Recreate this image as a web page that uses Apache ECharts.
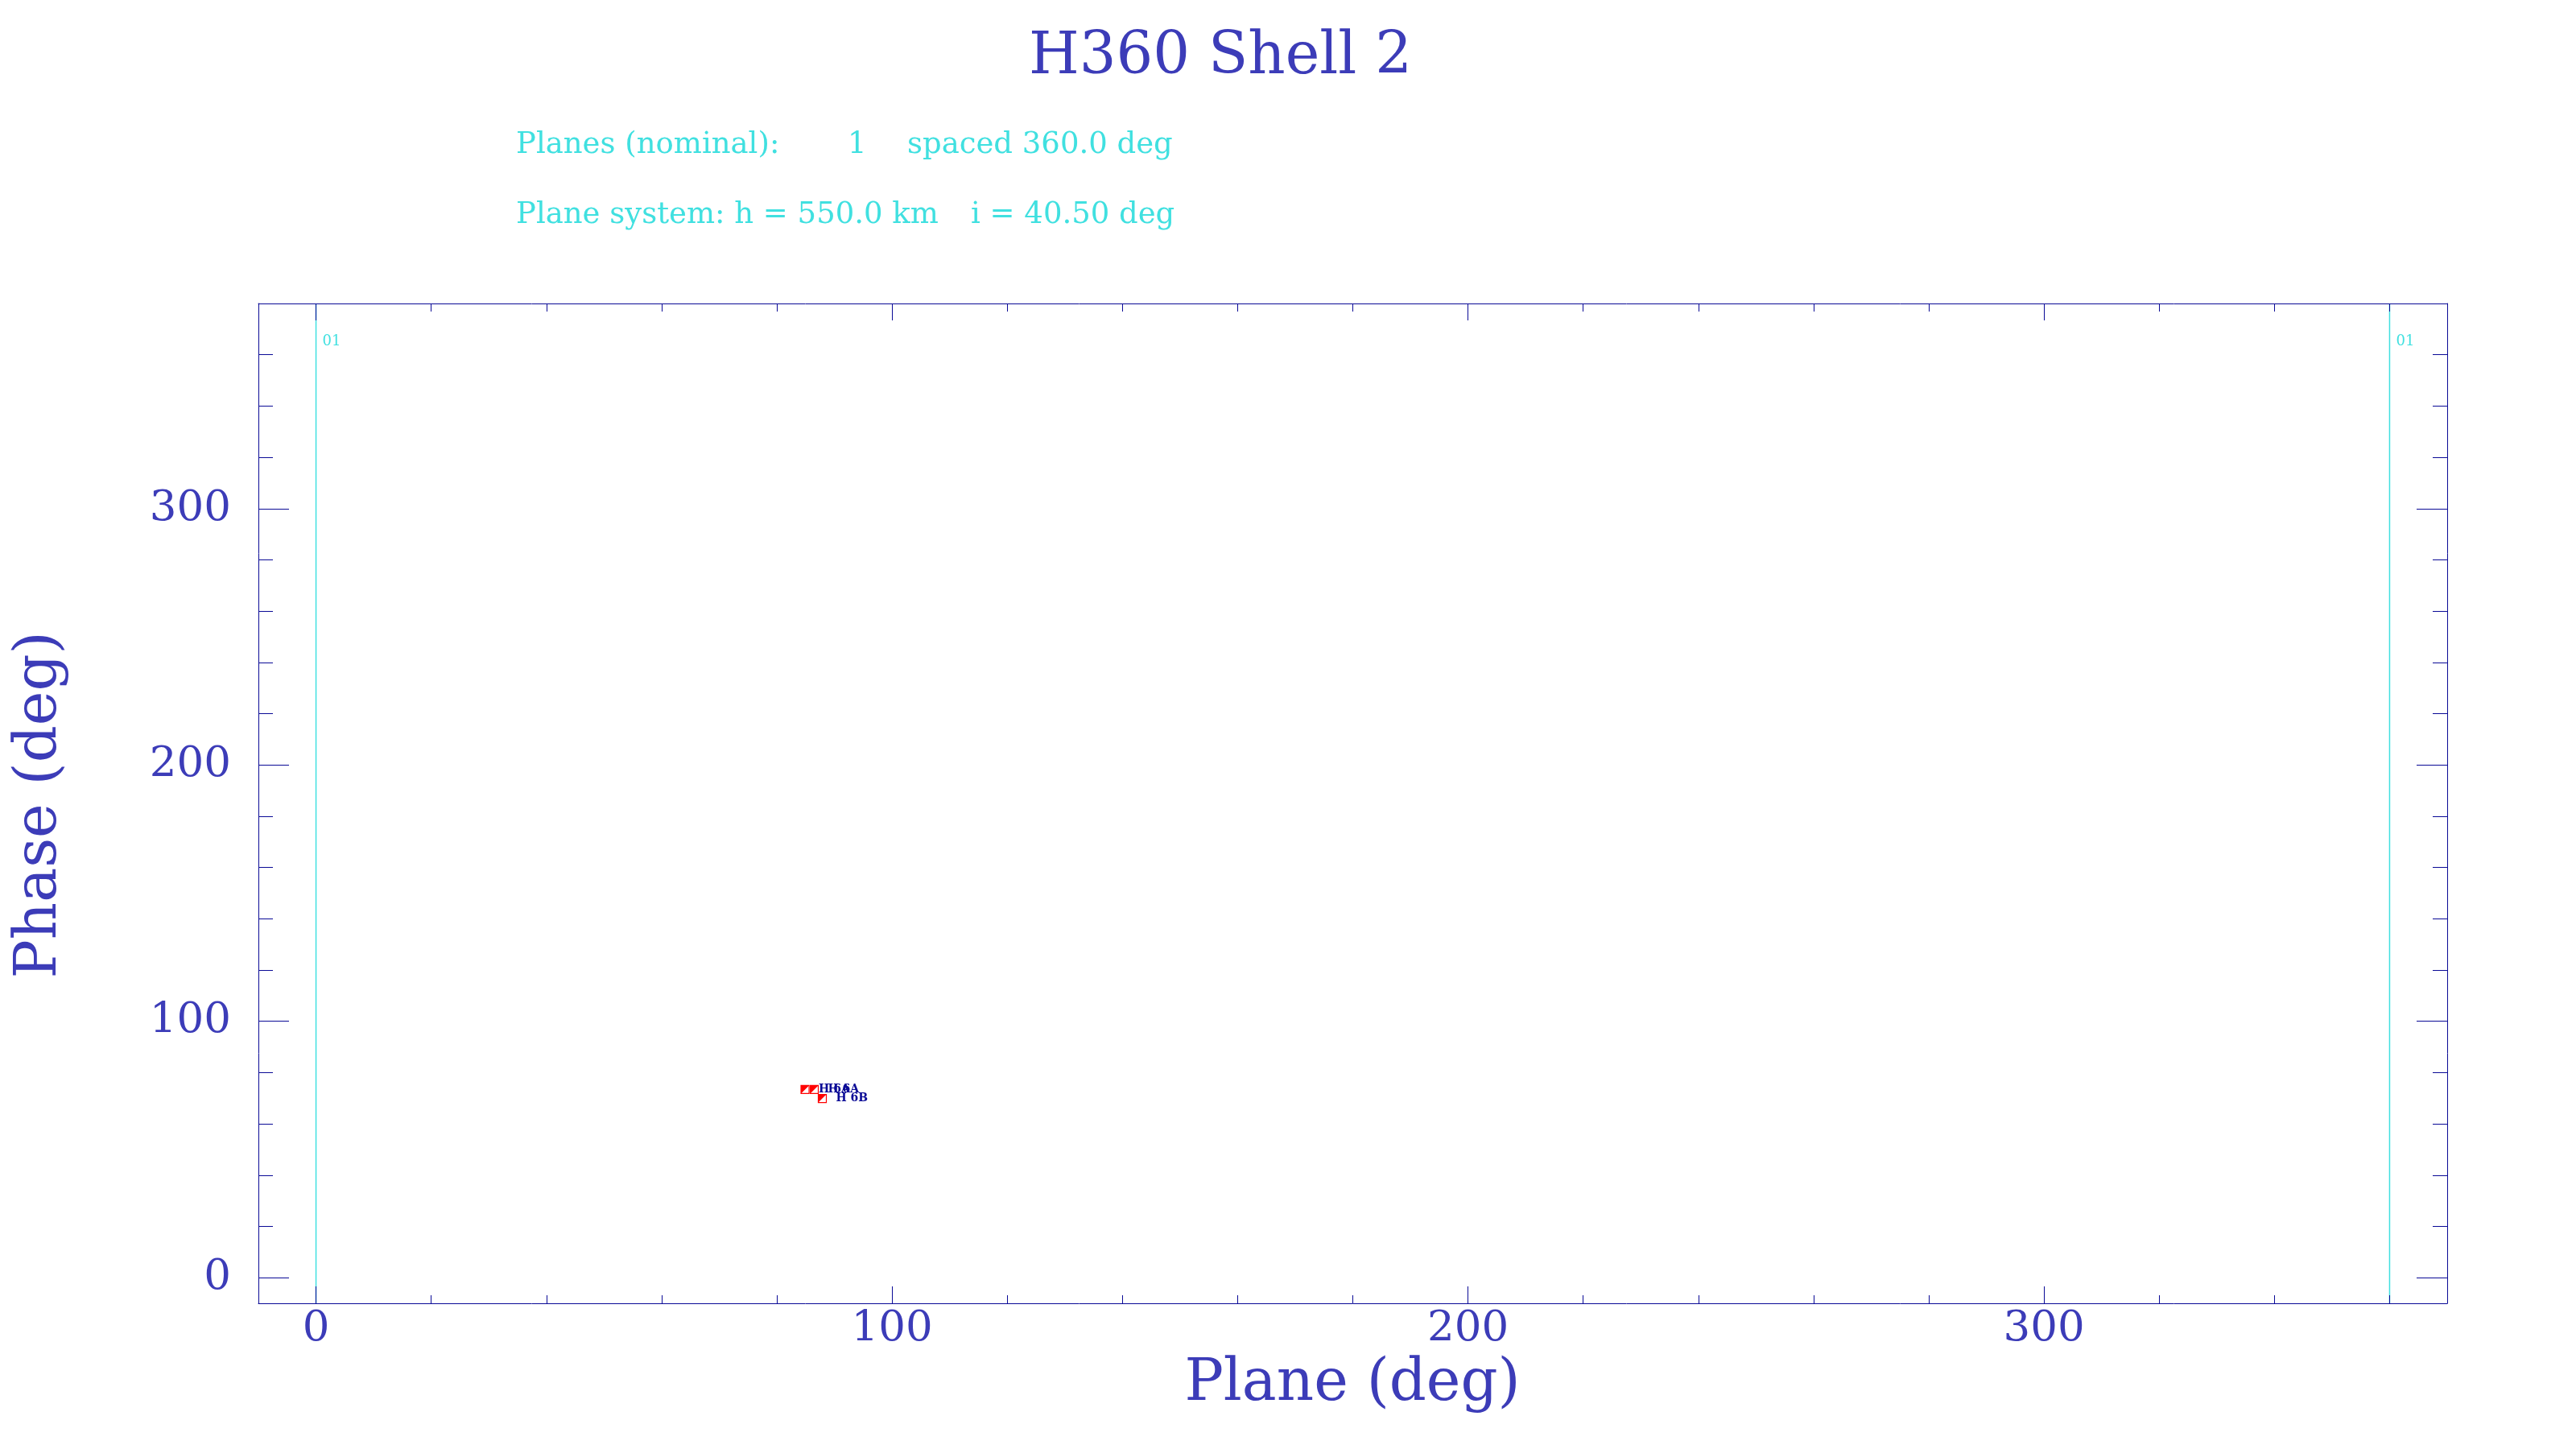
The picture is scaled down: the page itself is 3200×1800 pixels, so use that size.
<!DOCTYPE html>
<html>
<head>
<meta charset="utf-8">
<title>H360 Shell 2</title>
<script src="https://cdn.jsdelivr.net/npm/echarts@6/dist/echarts.min.js"></script>
<style>
  html, body { margin: 0; padding: 0; background: #ffffff; }
  #chart { width: 3200px; height: 1800px; }
</style>
</head>
<body>
<div id="chart"></div>
<script>
// ---- data ----
const chartTitle = 'H360 Shell 2';
const infoLine1Parts = ['Planes (nominal):', '1', 'spaced 360.0 deg'];
const infoLine2Parts = ['Plane system: h = 550.0 km', 'i = 40.50 deg'];
const xAxisName = 'Plane (deg)';
const yAxisName = 'Phase (deg)';

const xRange = [-10, 370];
const yRange = [-10, 380];
const xMajorTicks = [0, 100, 200, 300];
const xMinorTicks = [0, 20, 40, 60, 80, 100, 120, 140, 160, 180, 200, 220, 240, 260, 280, 300, 320, 340, 360];
const yMajorTicks = [0, 100, 200, 300];
const yMinorTicks = [0, 20, 40, 60, 80, 100, 120, 140, 160, 180, 200, 220, 240, 260, 280, 300, 320, 340, 360];

// plane lines (nominal plane positions) and their labels
const planePositions = [0, 360];
const planeLabels = ['01', '01'];
const planeLabelPhase = [365, 365];

// satellites
const satPlane = [84.9, 86.5, 87.9];
const satPhase = [73.4, 73.4, 69.9];
const satNames = ['H 6A', 'H 6A', 'H 6B'];

// ---- styling ----
const NAVY = '#0a0a96';
const TEXT_BLUE = '#3c3cb8';
const CYAN = '#40e0e0';
const RED = '#ff0000';
const FONT = 'DejaVu Serif';

const chart = echarts.init(document.getElementById('chart'), null, { renderer: 'canvas' });

function makeX(pos, ticks, len, showLabel, showLine) {
  return {
    type: 'value', position: pos, min: xRange[0], max: xRange[1], z: 10,
    axisLine: { show: showLine, onZero: false, lineStyle: { color: NAVY, width: 1 } },
    axisTick: { show: true, inside: true, length: len, customValues: ticks, lineStyle: { color: NAVY, width: 1 } },
    axisLabel: { show: showLabel, customValues: ticks, color: TEXT_BLUE, fontFamily: FONT, fontSize: 53, margin: 6 },
    splitLine: { show: false }
  };
}
function makeY(pos, ticks, len, showLabel, showLine) {
  return {
    type: 'value', position: pos, min: yRange[0], max: yRange[1], z: 10,
    axisLine: { show: showLine, onZero: false, lineStyle: { color: NAVY, width: 1 } },
    axisTick: { show: true, inside: true, length: len, customValues: ticks, lineStyle: { color: NAVY, width: 1 } },
    axisLabel: { show: showLabel, customValues: ticks, color: TEXT_BLUE, fontFamily: FONT, fontSize: 53, margin: 34 },
    splitLine: { show: false }
  };
}

const planeLineData = [];
planePositions.forEach(function (p, i) {
  if (i > 0) planeLineData.push([p, '-']);
  planeLineData.push([p, yRange[0]]);
  planeLineData.push([p, yRange[1]]);
});

function infoText(x, y, txt) {
  return { type: 'text', x: x, y: y, z: 100, silent: true,
    style: { text: txt, fill: CYAN, font: '37px "' + FONT + '"', textVerticalAlign: 'middle', textAlign: 'left' } };
}

const option = {
  backgroundColor: '#ffffff',
  animation: false,
  grid: { left: 321, right: 160, top: 377, bottom: 181, containLabel: false },
  xAxis: [
    makeX('bottom', xMajorTicks, 21, true, true),
    makeX('bottom', xMinorTicks, 10, false, false),
    makeX('top', xMajorTicks, 21, false, true),
    makeX('top', xMinorTicks, 10, false, false)
  ],
  yAxis: [
    makeY('left', yMajorTicks, 38, true, true),
    makeY('left', yMinorTicks, 18, false, false),
    makeY('right', yMajorTicks, 38, false, true),
    makeY('right', yMinorTicks, 18, false, false)
  ],
  graphic: [
    { type: 'text', x: 1516, y: 72, z: 100, silent: true,
      style: { text: chartTitle, fill: TEXT_BLUE, font: '72px "' + FONT + '"', textVerticalAlign: 'middle', textAlign: 'center' } },
    infoText(641, 180, infoLine1Parts[0]),
    infoText(1053, 180, infoLine1Parts[1]),
    infoText(1127, 180, infoLine1Parts[2]),
    infoText(641, 267, infoLine2Parts[0]),
    infoText(1206, 267, infoLine2Parts[1]),
    { type: 'text', x: 1680, y: 1720, z: 100, silent: true,
      style: { text: xAxisName, fill: TEXT_BLUE, font: '72px "' + FONT + '"', textVerticalAlign: 'middle', textAlign: 'center' } },
    { type: 'text', x: 50, y: 1000, rotation: Math.PI / 2, z: 100, silent: true,
      style: { text: yAxisName, fill: TEXT_BLUE, font: '72px "' + FONT + '"', textVerticalAlign: 'middle', textAlign: 'center' } }
  ],
  series: [
    {
      type: 'line', name: 'planes', xAxisIndex: 0, yAxisIndex: 0,
      data: planeLineData, showSymbol: false, symbol: 'none', connectNulls: false,
      lineStyle: { color: CYAN, width: 1.5 }, z: 2, silent: true
    },
    {
      type: 'custom', name: 'planeLabels', xAxisIndex: 0, yAxisIndex: 0, z: 3,
      data: planePositions.map(function (p, i) { return [p, planeLabelPhase[i]]; }),
      renderItem: function (params, api) {
        const pt = api.coord([api.value(0), api.value(1)]);
        return {
          type: 'text', x: pt[0] + 8, y: pt[1],
          style: { text: planeLabels[params.dataIndex], fill: CYAN, font: '18px "' + FONT + '"', textVerticalAlign: 'middle', textAlign: 'left' }
        };
      }
    },
    {
      type: 'custom', name: 'satellites', xAxisIndex: 0, yAxisIndex: 0, z: 4,
      data: satPlane.map(function (p, i) { return [p, satPhase[i]]; }),
      renderItem: function (params, api) {
        const pt = api.coord([api.value(0), api.value(1)]);
        const h = 5;
        return {
          type: 'group',
          children: [
            { type: 'rect', shape: { x: pt[0] - h, y: pt[1] - h, width: 2 * h, height: 2 * h },
              style: { fill: '#ffffff', stroke: RED, lineWidth: 1.2 } },
            { type: 'polygon', shape: { points: [[pt[0] - h, pt[1] - h], [pt[0] + h, pt[1] - h], [pt[0] - h, pt[1] + h]] },
              style: { fill: RED } },
            { type: 'text', x: pt[0] + 17, y: pt[1],
              style: { text: satNames[params.dataIndex], fill: NAVY, font: 'bold 14px "' + FONT + '"', textVerticalAlign: 'middle', textAlign: 'left' } }
          ]
        };
      }
    }
  ]
};

chart.setOption(option);
</script>
</body>
</html>
